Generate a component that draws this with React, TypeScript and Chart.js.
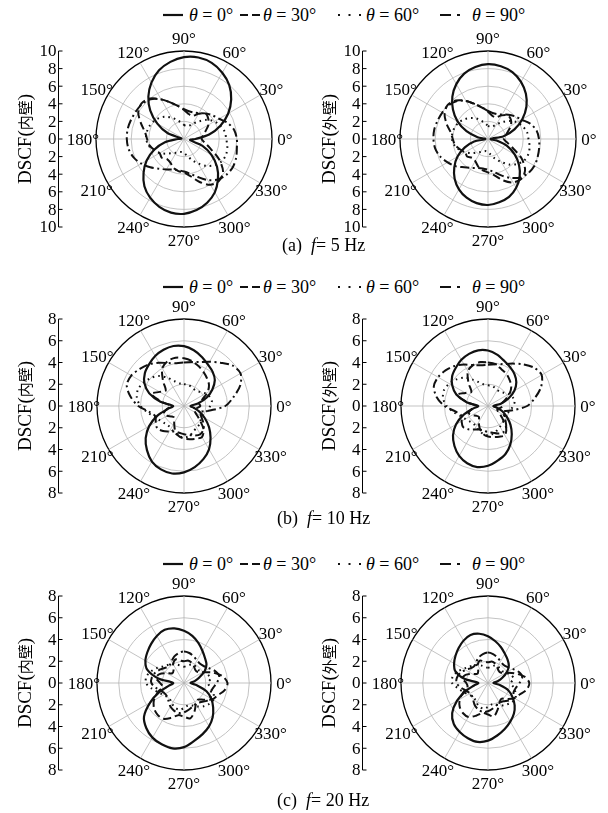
import React, { useEffect, useRef } from 'react';
import { Chart, registerables } from 'chart.js';

Chart.register(...registerables);

// ---------- data ----------
// polar angle (deg) of each value in the series arrays below
const POLAR_ANGLES = [0, 10, 20, 30, 40, 50, 60, 70, 80, 90, 100, 110, 120, 130, 140, 150, 160, 170,
  180, 190, 200, 210, 220, 230, 240, 250, 260, 270, 280, 290, 300, 310, 320, 330, 340, 350];

const ANGLE_TICK_LABELS = ['0°', '30°', '60°', '90°', '120°', '150°', '180°', '210°', '240°', '270°', '300°', '330°'];
const AXIS_TICKS_10 = [10, 8, 6, 4, 2, 0, -2, -4, -6, -8, -10];
const AXIS_TICKS_8 = [8, 6, 4, 2, 0, -2, -4, -6, -8];
const SERIES_THETA = ['0°', '30°', '60°', '90°'];
const CAPTIONS = [['(a)', '5 Hz'], ['(b)', '10 Hz'], ['(c)', '20 Hz']];

// (a) f = 5 Hz, inner wall
const A_IN_T0 = [1.3, 2.9, 4.4, 5.8, 7.0, 8.0, 8.7, 9.2, 9.4, 9.3, 8.9, 8.3, 7.4, 6.3, 5.0, 3.5, 2.0, 0.3, 0.7, 2.2, 3.6, 4.9, 6.0, 7.0, 7.7, 8.2, 8.5, 8.5, 8.2, 7.7, 7.0, 6.0, 4.9, 3.6, 2.2, 0.7];
const A_IN_T30 = [2.0, 2.2, 2.6, 3.2, 3.6, 3.8, 3.3, 2.8, 2.9, 3.3, 3.8, 4.4, 5.2, 6.0, 6.3, 6.0, 5.2, 4.5, 4.2, 4.0, 3.6, 3.2, 3.3, 3.0, 3.1, 3.5, 3.7, 3.8, 4.3, 5.2, 6.0, 6.2, 5.8, 4.6, 3.2, 2.4];
const A_IN_T60 = [4.8, 4.7, 4.4, 4.0, 3.4, 2.6, 2.0, 1.6, 1.5, 1.6, 1.9, 2.3, 2.8, 3.3, 3.7, 4.0, 4.2, 4.3, 4.3, 4.1, 3.7, 3.2, 2.6, 2.1, 1.8, 1.6, 1.5, 1.6, 1.9, 2.5, 3.2, 4.0, 4.6, 5.0, 5.1, 5.0];
const A_IN_T90 = [6.0, 5.8, 5.3, 4.6, 4.2, 3.8, 3.4, 3.2, 3.2, 3.4, 3.8, 4.4, 5.2, 5.9, 6.2, 6.3, 6.4, 6.5, 6.5, 6.4, 6.1, 5.6, 5.0, 4.4, 4.0, 3.7, 3.6, 3.7, 4.0, 4.6, 5.4, 6.0, 6.3, 6.4, 6.3, 6.1];

// (a) f = 5 Hz, outer wall
const A_OUT_T0 = [0.3, 1.8, 3.2, 4.5, 5.7, 6.7, 7.5, 8.1, 8.4, 8.5, 8.3, 7.9, 7.2, 6.3, 5.2, 4.0, 2.6, 1.2, 0.3, 1.6, 2.8, 4.0, 5.0, 5.9, 6.6, 7.1, 7.4, 7.5, 7.3, 7.0, 6.4, 5.6, 4.6, 3.5, 2.3, 1.0];
const A_OUT_T30 = [1.8, 2.0, 2.4, 3.0, 3.4, 3.5, 3.1, 2.6, 2.7, 3.1, 3.6, 4.2, 5.0, 5.7, 6.0, 5.7, 5.0, 4.3, 4.0, 3.8, 3.4, 3.0, 3.1, 2.8, 2.9, 3.3, 3.6, 3.8, 4.2, 5.0, 5.7, 5.9, 5.5, 4.4, 3.0, 2.2];
const A_OUT_T60 = [4.6, 4.5, 4.2, 3.8, 3.2, 2.5, 1.9, 1.5, 1.4, 1.5, 1.8, 2.2, 2.7, 3.1, 3.5, 3.8, 4.0, 4.1, 4.1, 3.9, 3.5, 3.0, 2.5, 2.0, 1.7, 1.5, 1.4, 1.5, 1.8, 2.4, 3.0, 3.8, 4.4, 4.8, 4.9, 4.8];
const A_OUT_T90 = [5.8, 5.6, 5.1, 4.4, 4.0, 3.6, 3.2, 3.0, 3.0, 3.2, 3.6, 4.2, 5.0, 5.6, 5.9, 6.0, 6.1, 6.2, 6.2, 6.1, 5.8, 5.3, 4.8, 4.2, 3.8, 3.5, 3.4, 3.5, 3.8, 4.4, 5.1, 5.7, 6.0, 6.1, 6.0, 5.9];

// (b) f = 10 Hz, inner wall
const B_IN_T0 = [0.6, 1.3, 2.2, 3.0, 3.7, 4.1, 4.4, 4.8, 5.2, 5.5, 5.6, 5.5, 5.3, 5.0, 4.7, 4.2, 3.4, 2.2, 1.0, 1.5, 2.6, 3.7, 4.6, 5.3, 5.9, 6.2, 6.3, 6.1, 5.7, 5.2, 4.6, 3.8, 3.0, 2.2, 1.5, 0.9];
const B_IN_T30 = [1.5, 1.4, 1.8, 2.5, 3.0, 3.3, 3.6, 3.9, 4.2, 4.4, 4.5, 4.4, 4.0, 3.0, 2.2, 2.6, 3.2, 2.0, 1.2, 1.6, 2.0, 1.8, 1.5, 1.4, 1.8, 2.4, 2.8, 3.0, 3.1, 3.2, 3.3, 2.8, 1.8, 1.2, 1.0, 1.2];
const B_IN_T60 = [2.4, 2.6, 2.5, 2.3, 2.0, 1.8, 1.8, 1.9, 2.0, 2.0, 2.1, 2.4, 3.0, 3.6, 4.0, 4.3, 4.5, 4.4, 4.0, 3.4, 2.9, 2.6, 2.4, 2.3, 2.4, 2.6, 2.8, 2.9, 2.8, 2.5, 2.3, 2.2, 2.0, 1.9, 2.0, 2.2];
const B_IN_T90 = [3.8, 4.6, 5.5, 6.0, 5.8, 5.2, 4.7, 4.3, 4.1, 4.0, 4.0, 4.2, 4.6, 5.0, 5.3, 5.6, 5.6, 5.0, 4.2, 3.2, 2.8, 3.0, 3.2, 3.0, 2.7, 2.5, 2.5, 2.6, 2.7, 2.9, 3.0, 2.8, 2.3, 1.8, 1.6, 2.4];

// (b) f = 10 Hz, outer wall
const B_OUT_T0 = [0.5, 1.2, 2.0, 2.8, 3.4, 3.8, 4.1, 4.4, 4.8, 5.1, 5.2, 5.1, 4.9, 4.6, 4.3, 3.8, 3.1, 2.0, 0.9, 1.4, 2.4, 3.4, 4.2, 4.8, 5.3, 5.6, 5.7, 5.5, 5.1, 4.7, 4.1, 3.4, 2.7, 2.0, 1.4, 0.8];
const B_OUT_T30 = [1.4, 1.3, 1.7, 2.3, 2.8, 3.1, 3.4, 3.6, 3.9, 4.0, 4.1, 4.0, 3.7, 2.8, 2.0, 2.4, 3.0, 1.9, 1.1, 1.5, 1.9, 1.7, 1.4, 1.3, 1.7, 2.2, 2.6, 2.8, 2.9, 3.0, 3.1, 2.6, 1.7, 1.1, 0.9, 1.1];
const B_OUT_T60 = [2.3, 2.5, 2.4, 2.2, 1.9, 1.7, 1.7, 1.8, 1.9, 1.9, 2.0, 2.3, 2.8, 3.4, 3.8, 4.1, 4.3, 4.2, 3.8, 3.2, 2.7, 2.4, 2.2, 2.1, 2.2, 2.4, 2.6, 2.7, 2.6, 2.4, 2.2, 2.1, 1.9, 1.8, 1.9, 2.1];
const B_OUT_T90 = [3.6, 4.4, 5.2, 5.7, 5.5, 5.0, 4.5, 4.1, 3.9, 3.8, 3.8, 4.0, 4.4, 4.8, 5.1, 5.3, 5.3, 4.8, 4.0, 3.0, 2.6, 2.8, 3.0, 2.8, 2.5, 2.3, 2.3, 2.4, 2.5, 2.7, 2.8, 2.6, 2.1, 1.7, 1.5, 2.3];

// (c) f = 20 Hz, inner wall
const C_IN_T0 = [0.6, 1.0, 1.5, 2.2, 2.7, 3.0, 3.4, 3.9, 4.4, 4.8, 5.1, 5.2, 5.0, 4.7, 4.4, 4.1, 3.6, 2.4, 1.0, 1.4, 2.4, 3.6, 4.8, 5.4, 5.8, 6.0, 6.1, 5.9, 5.4, 5.0, 4.6, 4.1, 3.5, 2.9, 2.2, 1.2];
const C_IN_T30 = [4.0, 3.6, 2.8, 2.0, 1.6, 1.6, 1.8, 2.0, 2.1, 2.0, 2.1, 2.3, 2.0, 1.5, 1.4, 1.8, 2.4, 2.6, 2.2, 2.0, 2.6, 3.2, 3.6, 3.8, 3.8, 3.4, 3.0, 3.1, 3.3, 2.8, 2.2, 2.0, 2.4, 3.0, 3.3, 3.8];
const C_IN_T60 = [2.2, 2.5, 2.3, 2.0, 1.8, 1.8, 1.9, 1.8, 1.6, 1.5, 1.6, 1.8, 2.0, 2.2, 2.4, 2.8, 3.2, 3.5, 3.5, 3.0, 2.5, 2.2, 2.0, 2.0, 2.2, 2.4, 2.5, 2.3, 2.1, 2.2, 2.5, 2.8, 3.0, 3.1, 2.9, 2.5];
const C_IN_T90 = [3.0, 3.3, 3.1, 2.7, 2.4, 2.3, 2.4, 2.6, 2.8, 2.9, 2.8, 2.6, 2.3, 2.1, 2.2, 2.5, 2.8, 3.0, 3.0, 2.6, 2.2, 2.0, 2.0, 2.2, 2.5, 2.7, 2.8, 2.7, 2.5, 2.3, 2.2, 2.3, 2.6, 2.8, 2.6, 2.7];

// (c) f = 20 Hz, outer wall
const C_OUT_T0 = [0.5, 0.9, 1.4, 2.0, 2.5, 2.8, 3.1, 3.5, 3.9, 4.3, 4.6, 4.7, 4.5, 4.2, 3.9, 3.6, 3.2, 2.2, 0.9, 1.3, 2.2, 3.3, 4.3, 4.9, 5.2, 5.4, 5.5, 5.3, 4.9, 4.5, 4.1, 3.7, 3.2, 2.6, 2.0, 1.1];
const C_OUT_T30 = [3.8, 3.4, 2.6, 1.9, 1.5, 1.5, 1.7, 1.9, 2.0, 1.9, 2.0, 2.2, 1.9, 1.4, 1.3, 1.7, 2.2, 2.4, 2.0, 1.9, 2.4, 3.0, 3.4, 3.6, 3.6, 3.2, 2.8, 2.9, 3.1, 2.6, 2.1, 1.9, 2.3, 2.8, 3.1, 3.6];
const C_OUT_T60 = [2.1, 2.4, 2.2, 1.9, 1.7, 1.7, 1.8, 1.7, 1.5, 1.4, 1.5, 1.7, 1.9, 2.1, 2.3, 2.6, 3.0, 3.3, 3.3, 2.8, 2.4, 2.1, 1.9, 1.9, 2.1, 2.3, 2.4, 2.2, 2.0, 2.1, 2.4, 2.6, 2.8, 2.9, 2.7, 2.4];
const C_OUT_T90 = [2.9, 3.2, 3.0, 2.6, 2.3, 2.2, 2.3, 2.5, 2.7, 2.8, 2.7, 2.5, 2.2, 2.0, 2.1, 2.4, 2.7, 2.9, 2.9, 2.5, 2.1, 1.9, 1.9, 2.1, 2.4, 2.6, 2.7, 2.6, 2.4, 2.2, 2.1, 2.2, 2.5, 2.7, 2.5, 2.6];

// ---------- styles ----------
const SERIF = '"Liberation Serif", "Times New Roman", serif';
const CJK = '"Noto Sans CJK SC", sans-serif';
const LINE_STYLES = [
  { dash: [] as number[], width: 2.2 },
  { dash: [8, 4], width: 2 },
  { dash: [1.6, 4], width: 2 },
  { dash: [9, 3.5, 2, 3.5], width: 2 },
];

type PanelDef = {
  left: number;
  top: number;
  maxR: number;
  R: number;
  yLabel: string;
  axisTicks: number[];
  series: number[][];
};

const CANVAS_W = 304;
const CANVAS_H = 250;
const CENTER_X = 184;

const PANELS: PanelDef[] = [
  { left: 0, top: 139 - 125, maxR: 10, R: 88, yLabel: 'DSCF(内壁)', axisTicks: AXIS_TICKS_10, series: [A_IN_T0, A_IN_T30, A_IN_T60, A_IN_T90] },
  { left: 304, top: 139 - 125, maxR: 10, R: 88, yLabel: 'DSCF(外壁)', axisTicks: AXIS_TICKS_10, series: [A_OUT_T0, A_OUT_T30, A_OUT_T60, A_OUT_T90] },
  { left: 0, top: 406 - 125, maxR: 8, R: 87, yLabel: 'DSCF(内壁)', axisTicks: AXIS_TICKS_8, series: [B_IN_T0, B_IN_T30, B_IN_T60, B_IN_T90] },
  { left: 304, top: 406 - 125, maxR: 8, R: 87, yLabel: 'DSCF(外壁)', axisTicks: AXIS_TICKS_8, series: [B_OUT_T0, B_OUT_T30, B_OUT_T60, B_OUT_T90] },
  { left: 0, top: 683 - 125, maxR: 8, R: 87, yLabel: 'DSCF(内壁)', axisTicks: AXIS_TICKS_8, series: [C_IN_T0, C_IN_T30, C_IN_T60, C_IN_T90] },
  { left: 304, top: 683 - 125, maxR: 8, R: 87, yLabel: 'DSCF(外壁)', axisTicks: AXIS_TICKS_8, series: [C_OUT_T0, C_OUT_T30, C_OUT_T60, C_OUT_T90] },
];

// radar goes clockwise from the top; list the polar angles in that order
const RADAR_ANGLES: number[] = [];
for (let i = 0; i < POLAR_ANGLES.length; i++) {
  RADAR_ANGLES.push(POLAR_ANGLES[(POLAR_ANGLES.indexOf(90) - i + POLAR_ANGLES.length) % POLAR_ANGLES.length]);
}

// split a label into Latin / CJK runs so each can use its own font
function splitRuns(s: string): { text: string; cjk: boolean }[] {
  const runs: { text: string; cjk: boolean }[] = [];
  for (const ch of s) {
    const cjk = ch.charCodeAt(0) > 0x2e80;
    const last = runs[runs.length - 1];
    if (last && last.cjk === cjk) last.text += ch;
    else runs.push({ text: ch, cjk });
  }
  return runs;
}

function PolarPanel({ def }: { def: PanelDef }) {
  const ref = useRef<HTMLCanvasElement | null>(null);

  useEffect(() => {
    if (!ref.current) return;
    const { maxR, R, yLabel, axisTicks, series } = def;
    const padL = CENTER_X - R;
    const padR = CANVAS_W - CENTER_X - R;
    const padV = CANVAS_H / 2 - R;

    const overlay = {
      id: 'polarOverlay',
      afterDraw(chart: any) {
        const sc = chart.scales.r;
        const ctx = chart.ctx as CanvasRenderingContext2D;
        const cx = sc.xCenter;
        const cy = sc.yCenter;
        const rad = sc.drawingArea;
        ctx.save();
        ctx.fillStyle = '#000';
        ctx.strokeStyle = '#000';

        // angle labels
        ctx.font = `17px ${SERIF}`;
        ctx.textAlign = 'center';
        ctx.textBaseline = 'middle';
        RADAR_ANGLES.forEach((ang, i) => {
          if (ang % 30 !== 0) return;
          const p = sc.getPointPosition(i, rad + 13);
          ctx.fillText(ANGLE_TICK_LABELS[ang / 30], p.x, p.y + 2);
        });

        // left linear axis
        const ax = Math.round(cx - 126) + 0.5;
        ctx.lineWidth = 1;
        ctx.beginPath();
        ctx.moveTo(ax, cy - rad);
        ctx.lineTo(ax, cy + rad);
        ctx.stroke();
        ctx.font = `17px ${SERIF}`;
        ctx.textAlign = 'right';
        axisTicks.forEach((v) => {
          const d = sc.getDistanceFromCenterForValue(Math.abs(v));
          const y = cy - Math.sign(v) * d;
          ctx.beginPath();
          ctx.moveTo(ax, y);
          ctx.lineTo(ax + 4, y);
          ctx.stroke();
          ctx.fillText(String(Math.abs(v)), ax - 2, y + 1);
        });

        // axis title (rotated), Latin in serif, CJK in CJK font
        ctx.translate(ax - 33, cy);
        ctx.rotate(-Math.PI / 2);
        ctx.textAlign = 'left';
        ctx.textBaseline = 'middle';
        const runs = splitRuns(yLabel).map((r) => ({
          ...r,
          font: r.cjk ? `15px ${CJK}` : `19px ${SERIF}`,
        }));
        let total = 0;
        runs.forEach((r) => {
          ctx.font = r.font;
          total += ctx.measureText(r.text).width;
        });
        let x = -total / 2;
        runs.forEach((r) => {
          ctx.font = r.font;
          ctx.fillText(r.text, x, r.cjk ? 0 : 1);
          x += ctx.measureText(r.text).width;
        });
        ctx.restore();
      },
    };

    const chart = new Chart(ref.current, {
      type: 'radar',
      data: {
        labels: RADAR_ANGLES.map((a) => String(a)),
        datasets: series.map((arr, s) => ({
          label: 'θ = ' + SERIES_THETA[s],
          data: RADAR_ANGLES.map((a) => arr[POLAR_ANGLES.indexOf(a)]),
          borderColor: '#111',
          borderWidth: LINE_STYLES[s].width,
          borderDash: LINE_STYLES[s].dash,
          borderCapStyle: 'butt' as const,
          pointRadius: 0,
          fill: false,
          tension: 0.3,
        })),
      },
      options: {
        animation: false,
        responsive: false,
        events: [],
        layout: { padding: { left: padL, right: padR, top: padV, bottom: padV } },
        plugins: { legend: { display: false }, tooltip: { enabled: false } },
        scales: {
          r: {
            min: 0,
            max: maxR,
            ticks: { display: false, stepSize: 2 },
            grid: {
              circular: true,
              color: (c: any) => (c.tick && c.tick.value === maxR ? '#000' : '#b4b4b4'),
              lineWidth: (c: any) => (c.tick && c.tick.value === maxR ? 1.3 : 0.8),
            },
            angleLines: {
              display: true,
              color: (c: any) => (RADAR_ANGLES[c.index] % 30 === 0 ? '#b4b4b4' : 'rgba(0,0,0,0)'),
              lineWidth: 0.8,
            },
            pointLabels: { display: false },
          },
        },
      },
      plugins: [overlay],
    } as any);

    return () => chart.destroy();
  }, [def]);

  return (
    <canvas
      ref={ref}
      width={CANVAS_W}
      height={CANVAS_H}
      style={{ position: 'absolute', left: def.left, top: def.top, width: CANVAS_W, height: CANVAS_H }}
    />
  );
}

const LEGEND_ITEMS = [
  { x: 163, w: 20, dash: '', text: 189 },
  { x: 240, w: 20, dash: '8 4', text: 263 },
  { x: 338, w: 24, dash: '2 8.5', text: 366 },
  { x: 440, w: 22, dash: '11 6 3 6', text: 472 },
];

function Legend({ y }: { y: number }) {
  return (
    <>
      {LEGEND_ITEMS.map((it, i) => (
        <React.Fragment key={i}>
          <svg
            width={it.w}
            height={6}
            style={{ position: 'absolute', left: it.x, top: y - 3 }}
          >
            <line x1={0} y1={3} x2={it.w} y2={3} stroke="#111" strokeWidth={2.2} strokeDasharray={it.dash || undefined} />
          </svg>
          <div
            style={{
              position: 'absolute',
              left: it.text,
              top: y - 11,
              height: 22,
              lineHeight: '22px',
              fontFamily: SERIF,
              fontSize: 18,
              whiteSpace: 'pre',
              color: '#000',
            }}
          >
            <i>θ</i>
            {' = ' + SERIES_THETA[i]}
          </div>
        </React.Fragment>
      ))}
    </>
  );
}

function Caption({ y, x, idx }: { y: number; x: number; idx: number }) {
  return (
    <div
      style={{
        position: 'absolute',
        left: x,
        top: y - 11,
        height: 22,
        lineHeight: '22px',
        fontFamily: SERIF,
        fontSize: 18,
        whiteSpace: 'pre',
        color: '#000',
      }}
    >
      {CAPTIONS[idx][0] + '  '}
      <i>f</i>
      {'= ' + CAPTIONS[idx][1]}
    </div>
  );
}

export default function App() {
  return (
    <div
      style={{
        position: 'absolute',
        left: 0,
        top: 0,
        width: 608,
        height: 813,
        background: '#fff',
        overflow: 'hidden',
      }}
    >
      <Legend y={15} />
      <Legend y={287} />
      <Legend y={564} />
      {PANELS.map((p, i) => (
        <PolarPanel key={i} def={p} />
      ))}
      <Caption y={245} x={282} idx={0} />
      <Caption y={518} x={277} idx={1} />
      <Caption y={800} x={277} idx={2} />
    </div>
  );
}
